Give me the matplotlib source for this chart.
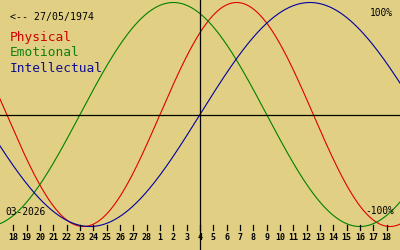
import numpy as np
import matplotlib.pyplot as plt

# biorhythm for 27/05/1974, centred on 04/03/2026
birth = '27/05/1974'
month_label = '03-2026'
days_alive = 18909
names = ['Physical', 'Emotional', 'Intellectual']
periods = [23, 28, 33]
line_colors = ['#e00000', '#008000', '#0000a0']
text_colors = ['#d00000', '#108010', '#101090']
day_offsets = list(range(-14, 15))
day_labels = [18, 19, 20, 21, 22, 23, 24, 25, 26, 27, 28, 1, 2, 3, 4,
              5, 6, 7, 8, 9, 10, 11, 12, 13, 14, 15, 16, 17, 18]

bg = '#e1d084'
W, H = 400, 250
fig = plt.figure(figsize=(4, 2.5), dpi=100, facecolor=bg)
ax = fig.add_axes([0, 0, 1, 1], facecolor=bg)

# pixel mapping: x = 200 + 13.33*d, y = 114.5 - 112*v
ppd = 13.33
amp = 112.0
y0 = 114.5
ax.set_xlim(-200 / ppd, 200 / ppd)
ax.set_ylim(-(H - y0) / amp, y0 / amp)
ax.axis('off')

t = np.linspace(-16, 16, 800)
for p, c in zip(periods, line_colors):
    ax.plot(t, np.sin(2 * np.pi * (days_alive + t) / p), color=c, lw=0.8)

ax.axhline(0, color='black', lw=0.9)
ax.axvline(0, color='black', lw=0.9)

def py(ypix):
    return (y0 - ypix) / amp

for d, lab in zip(day_offsets, day_labels):
    ax.plot([d, d], [py(225), py(230)], color='black', lw=0.9)
    ax.text(d, py(238), str(lab), ha='center', va='center',
            fontsize=6, fontweight='bold', family='DejaVu Sans Mono')

def ft(x, y, s, **kw):
    fig.text(x / W, 1 - y / H, s, family='DejaVu Sans Mono', **kw)

ft(10, 17, '<-- ' + birth, fontsize=7.1, va='center')
for i, (n, c) in enumerate(zip(names, text_colors)):
    ft(10, 38 + 15 * i, n, fontsize=9.3, color=c, va='center')
ft(5, 212, month_label, fontsize=6.9, va='center')
ft(394, 211, '-100%', fontsize=6.9, va='center', ha='right')
ft(393, 13, '100%', fontsize=6.9, va='center', ha='right')

fig.savefig('out.png', dpi=100, facecolor=bg)
